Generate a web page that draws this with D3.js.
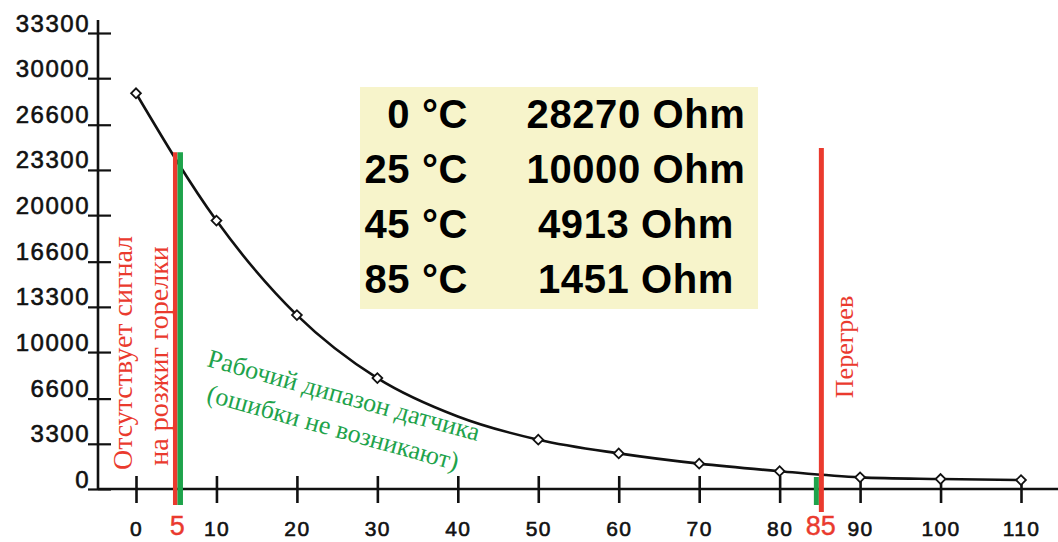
<!DOCTYPE html>
<html>
<head>
<meta charset="utf-8">
<script src="https://cdn.jsdelivr.net/npm/d3@7"></script>
<style>
  html, body { margin: 0; padding: 0; background: #fff; }
  .axis text { font-family: "Liberation Sans", Arial, sans-serif; fill: #111; stroke: #111; stroke-width: 0.6px; }
  .serif { font-family: "Liberation Serif", "Times New Roman", serif; }
</style>
</head>
<body>
<svg class="chart" width="1058" height="542"></svg>
<script>
'use strict';

// temperature (°C) vs resistance (Ohm)
var temps = [0, 10, 20, 30, 40, 50, 60, 70, 80, 90, 100, 110];
var ohms = [28900, 19600, 12700, 8100, 5300, 3600, 2600, 1850, 1300, 850, 730, 650];
var markedTemps = [0, 10, 20, 30, 50, 60, 70, 80, 90, 100, 110];

var xTicks = [0, 10, 20, 30, 40, 50, 60, 70, 80, 90, 100, 110];
var yTicks = [0, 3300, 6600, 10000, 13300, 16600, 20000, 23300, 26600, 30000, 33300];

var tableTemps = ['0 °C', '25 °C', '45 °C', '85 °C'];
var tableOhms = ['28270 Ohm', '10000 Ohm', '4913 Ohm', '1451 Ohm'];

var lowLimit = 5;      // burner ignition limit
var lowLimitTop = 24600;
var highLimit = 85;    // overheat
var highLimitTop = 24900;

var red = '#ea3a2e';
var green = '#1ea34b';

var svg = d3.select('.chart');

var x = d3.scaleLinear().domain([0, 110]).range([136, 1021]);
var y = d3.scaleLinear().domain([0, 33300]).range([489, 33]);

// axis lines
svg.append('line').attr('x1', 98).attr('x2', 98).attr('y1', 20).attr('y2', y(0))
  .attr('stroke', '#111').attr('stroke-width', 2.6);
svg.append('line').attr('x1', 98).attr('x2', 1058).attr('y1', y(0)).attr('y2', y(0))
  .attr('stroke', '#111').attr('stroke-width', 2.4);

var yAxis = d3.axisLeft(y).tickValues(yTicks).tickSize(10).tickFormat(d3.format('d'));
var gy = svg.append('g').attr('class', 'axis').attr('transform', 'translate(98,0)').call(yAxis);
gy.select('.domain').remove();
gy.selectAll('.tick line').attr('x1', 13).attr('stroke', '#111').attr('stroke-width', 2.2);
gy.selectAll('.tick text').attr('x', -8).attr('dy', -2)
  .style('font-size', '24px').style('letter-spacing', '1.5px');

var xAxis = d3.axisBottom(x).tickValues(xTicks).tickSize(14);
var gx = svg.append('g').attr('class', 'axis').attr('transform', 'translate(0,' + y(0) + ')').call(xAxis);
gx.select('.domain').remove();
gx.selectAll('.tick line').attr('y1', -13).attr('stroke', '#111').attr('stroke-width', 2.6);
gx.selectAll('.tick text').attr('y', 47).attr('dy', null)
  .style('font-size', '21px').style('letter-spacing', '1.4px');

// curve
var points = temps.map(function (t, i) { return { t: t, v: ohms[i] }; });
var line = d3.line().x(function (d) { return x(d.t); }).y(function (d) { return y(d.v); })
  .curve(d3.curveMonotoneX);
svg.append('path').datum(points).attr('d', line)
  .attr('fill', 'none').attr('stroke', '#111').attr('stroke-width', 2.6);

svg.selectAll('.pt').data(points.filter(function (d) { return markedTemps.indexOf(d.t) >= 0; }))
  .enter().append('path').attr('class', 'pt')
  .attr('d', d3.symbol(d3.symbolSquare, 48))
  .attr('transform', function (d) { return 'translate(' + x(d.t) + ',' + y(d.v) + ') rotate(45)'; })
  .attr('fill', '#fff').attr('stroke', '#111').attr('stroke-width', 1.8);

// limit lines
svg.append('line').attr('x1', x(lowLimit) - 1).attr('x2', x(lowLimit) - 1)
  .attr('y1', y(lowLimitTop)).attr('y2', 505).attr('stroke', red).attr('stroke-width', 4.5);
svg.append('line').attr('x1', x(lowLimit) + 4).attr('x2', x(lowLimit) + 4)
  .attr('y1', y(lowLimitTop)).attr('y2', 505).attr('stroke', green).attr('stroke-width', 5.5);
svg.append('line').attr('x1', x(highLimit) - 3.5).attr('x2', x(highLimit) - 3.5)
  .attr('y1', 477).attr('y2', 505).attr('stroke', green).attr('stroke-width', 5);
svg.append('line').attr('x1', x(highLimit) + 1.5).attr('x2', x(highLimit) + 1.5)
  .attr('y1', y(highLimitTop)).attr('y2', 512).attr('stroke', red).attr('stroke-width', 5);

// red limit labels on x axis
[lowLimit, highLimit].forEach(function (t) {
  svg.append('text').attr('x', x(t) + 1).attr('y', 535).attr('text-anchor', 'middle')
    .style('font-family', '"Liberation Sans", Arial, sans-serif')
    .style('font-size', '27px').attr('fill', red).attr('stroke', red).attr('stroke-width', 0.4)
    .text(t);
});

// annotations
var lowNote = svg.append('text').attr('class', 'serif').attr('fill', red)
  .attr('text-anchor', 'middle').style('font-size', '28px')
  .attr('transform', 'translate(132,353) rotate(-90)');
lowNote.append('tspan').attr('x', 0).attr('y', 0).text('Отсутствует сигнал');
lowNote.append('tspan').attr('x', -3).attr('y', 36).text('на розжиг горелки');

svg.append('text').attr('class', 'serif').attr('fill', red)
  .attr('text-anchor', 'middle').style('font-size', '26px')
  .attr('transform', 'translate(853,347) rotate(-90)').text('Перегрев');

var okNote = svg.append('text').attr('class', 'serif').attr('fill', green)
  .style('font-size', '26px').attr('transform', 'translate(206,366) rotate(15.5)');
okNote.append('tspan').attr('x', 0).attr('y', 0).text('Рабочий дипазон датчика');
okNote.append('tspan').attr('x', 9).attr('y', 34).text('(ошибки не возникают)');

// table of reference values
svg.append('rect').attr('x', 360).attr('y', 87).attr('width', 398).attr('height', 222)
  .attr('fill', '#f7f4cb');
var rows = svg.selectAll('.row').data(tableTemps).enter().append('g').attr('class', 'row')
  .attr('transform', function (d, i) { return 'translate(0,' + (128 + i * 55) + ')'; })
  .style('font-family', '"Liberation Sans", Arial, sans-serif')
  .style('font-weight', 'bold').style('font-size', '40px').style('letter-spacing', '0.6px');
rows.append('text').attr('x', 468).attr('text-anchor', 'end').attr('fill', '#000')
  .text(function (d) { return d; });
rows.append('text').attr('x', 636).attr('text-anchor', 'middle').attr('fill', '#000')
  .text(function (d, i) { return tableOhms[i]; });
</script>
</body>
</html>
